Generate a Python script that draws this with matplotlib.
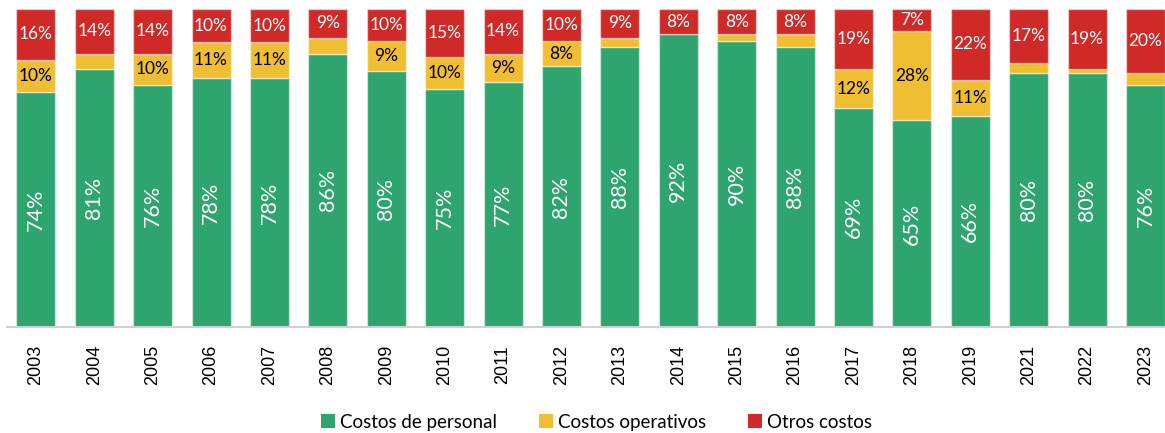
import matplotlib
matplotlib.use("Agg")
import matplotlib.pyplot as plt
import numpy as np

years = ["2003", "2004", "2005", "2006", "2007", "2008", "2009", "2010", "2011", "2012",
         "2013", "2014", "2015", "2016", "2017", "2018", "2019", "2021", "2022", "2023"]
personal = [74, 81, 76, 78.2, 78.2, 86, 80.4, 75, 77, 82, 88, 92, 90, 88, 69, 65, 66.4, 80, 80, 76]
operativos = [10, 5, 10, 11.4, 11.4, 5, 9.4, 10, 9, 8, 3, 0, 2, 4, 12, 28, 11.4, 3, 1, 4]
otros = [16, 14, 14, 10.4, 10.4, 9, 10.2, 15, 14, 10, 9, 8, 8, 8, 19, 7, 22.2, 17, 19, 20]
series_names = ["Costos de personal", "Costos operativos", "Otros costos"]

c_green = "#2EA46E"
c_yellow = "#F0BE32"
c_red = "#CF2A27"
edge = (1, 1, 1, 0.45)

fig = plt.figure(figsize=(11.65, 4.33), dpi=100)
ax = fig.add_axes([0.0057, 0.2448, 1.0026, 0.7344])

x = np.arange(len(years))
w = 0.668
p = np.array(personal)
o = np.array(operativos)
r = np.array(otros)

ax.bar(x, p, w, color=c_green, edgecolor=edge, linewidth=1, label=series_names[0])
ax.bar(x, o, w, bottom=p, color=c_yellow, edgecolor=edge, linewidth=1, label=series_names[1])
ax.bar(x, r, w, bottom=p + o, color=c_red, edgecolor=edge, linewidth=1, label=series_names[2])

lab_font = ["Lato", "DejaVu Sans"]
for i in range(len(years)):
    ax.text(x[i], p[i] / 2, f"{round(p[i])}%", rotation=90, ha="center", va="center",
            color="white", fontsize=15.5, family=lab_font)
    if o[i] >= 7.5:
        ax.text(x[i], p[i] + o[i] / 2, f"{round(o[i])}%", ha="center", va="center",
                color="black", fontsize=12.5, family=lab_font)
    ax.text(x[i], p[i] + o[i] + r[i] / 2, f"{round(r[i])}%", ha="center", va="center",
            color="white", fontsize=12.5, family=lab_font)

ax.set_xlim(-0.5, len(years) - 0.5)
ax.set_ylim(0, 100)
ax.set_xticks(x)
ax.set_xticklabels(years, rotation=90, fontsize=13, family=["Liberation Sans", "DejaVu Sans"])
ax.tick_params(axis="x", length=0, pad=13)
ax.set_yticks([])
for s in ["top", "right", "left"]:
    ax.spines[s].set_visible(False)
ax.spines["bottom"].set_color("#D0D0D0")
ax.spines["bottom"].set_linewidth(1.5)

leg = fig.legend(loc="center", bbox_to_anchor=(0.512, 0.025), ncol=3, frameon=False,
                 handlelength=0.75, handleheight=0.75, handletextpad=0.3, columnspacing=2.2,
                 prop={"family": lab_font, "size": 13.5})
for h in leg.legend_handles:
    h.set_edgecolor("none")

fig.savefig("out.png", dpi=100)
